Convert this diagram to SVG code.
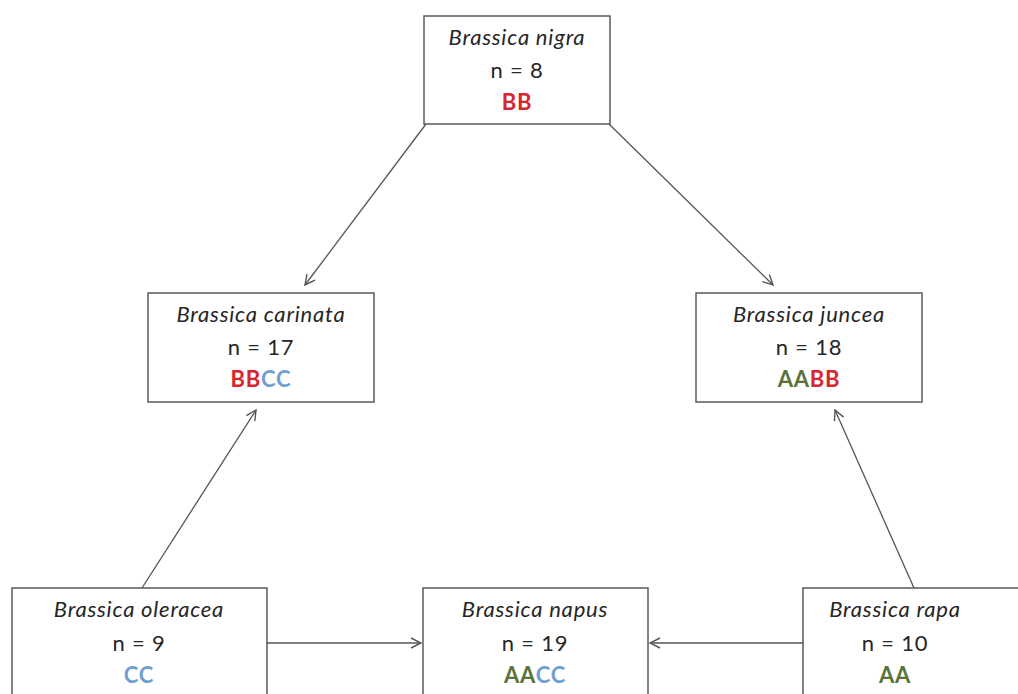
<svg xmlns="http://www.w3.org/2000/svg" width="1018" height="694" viewBox="0 0 1018 694">
<style>
.box{fill:#fff;stroke:#5a5a5a;stroke-width:1.5}
text{font-family:Lato,"Open Sans","Liberation Sans",sans-serif;font-size:22px;letter-spacing:0.8px;text-anchor:middle;fill:#262626}
.sp{font-style:italic}
.c{font-weight:700}
.r{fill:#d8262e}
.b{fill:#6f9fd2}
.g{fill:#5b7338}
.conn line{stroke:#555;stroke-width:1.3;fill:none}
</style>
<defs>
<marker id="arr" viewBox="0 0 12 12" refX="11" refY="6" markerWidth="12" markerHeight="12" markerUnits="userSpaceOnUse" orient="auto">
<path d="M1,1 L11,6 L1,11" fill="none" stroke="#555" stroke-width="1.4"/>
</marker>
</defs>
<rect width="1018" height="694" fill="#fff"/>
<g class="conn">
<line x1="426" y1="124" x2="305" y2="285" marker-end="url(#arr)"/>
<line x1="609" y1="124" x2="773" y2="285" marker-end="url(#arr)"/>
<line x1="142" y1="588" x2="256" y2="410" marker-end="url(#arr)"/>
<line x1="914" y1="588" x2="835" y2="410" marker-end="url(#arr)"/>
<line x1="267" y1="643" x2="421" y2="643" marker-end="url(#arr)"/>
<line x1="803" y1="643" x2="650" y2="643" marker-end="url(#arr)"/>
</g>
<g id="nigra">
<rect class="box" x="424" y="16" width="186" height="108"/>
<text class="sp" x="517" y="45">Brassica nigra</text>
<text x="517" y="78">n = 8</text>
<text class="c" x="517" y="110"><tspan class="r">BB</tspan></text>
</g>
<g id="carinata">
<rect class="box" x="148" y="293" width="226" height="109"/>
<text class="sp" x="261" y="322">Brassica carinata</text>
<text x="261" y="355">n = 17</text>
<text class="c" x="261" y="387"><tspan class="r">BB</tspan><tspan class="b">CC</tspan></text>
</g>
<g id="juncea">
<rect class="box" x="696" y="293" width="226" height="109"/>
<text class="sp" x="809" y="322">Brassica juncea</text>
<text x="809" y="355">n = 18</text>
<text class="c" x="809" y="387"><tspan class="g">AA</tspan><tspan class="r">BB</tspan></text>
</g>
<g id="oleracea">
<rect class="box" x="12" y="588" width="255" height="120"/>
<text class="sp" x="139" y="617">Brassica oleracea</text>
<text x="139" y="651">n = 9</text>
<text class="c" x="139" y="683"><tspan class="b">CC</tspan></text>
</g>
<g id="napus">
<rect class="box" x="423" y="588" width="225" height="120"/>
<text class="sp" x="535" y="617">Brassica napus</text>
<text x="535" y="651">n = 19</text>
<text class="c" x="535" y="683"><tspan class="g">AA</tspan><tspan class="b">CC</tspan></text>
</g>
<g id="rapa">
<rect class="box" x="803" y="588" width="230" height="120"/>
<text class="sp" x="895" y="617">Brassica rapa</text>
<text x="895" y="651">n = 10</text>
<text class="c" x="895" y="683"><tspan class="g">AA</tspan></text>
</g>
</svg>
